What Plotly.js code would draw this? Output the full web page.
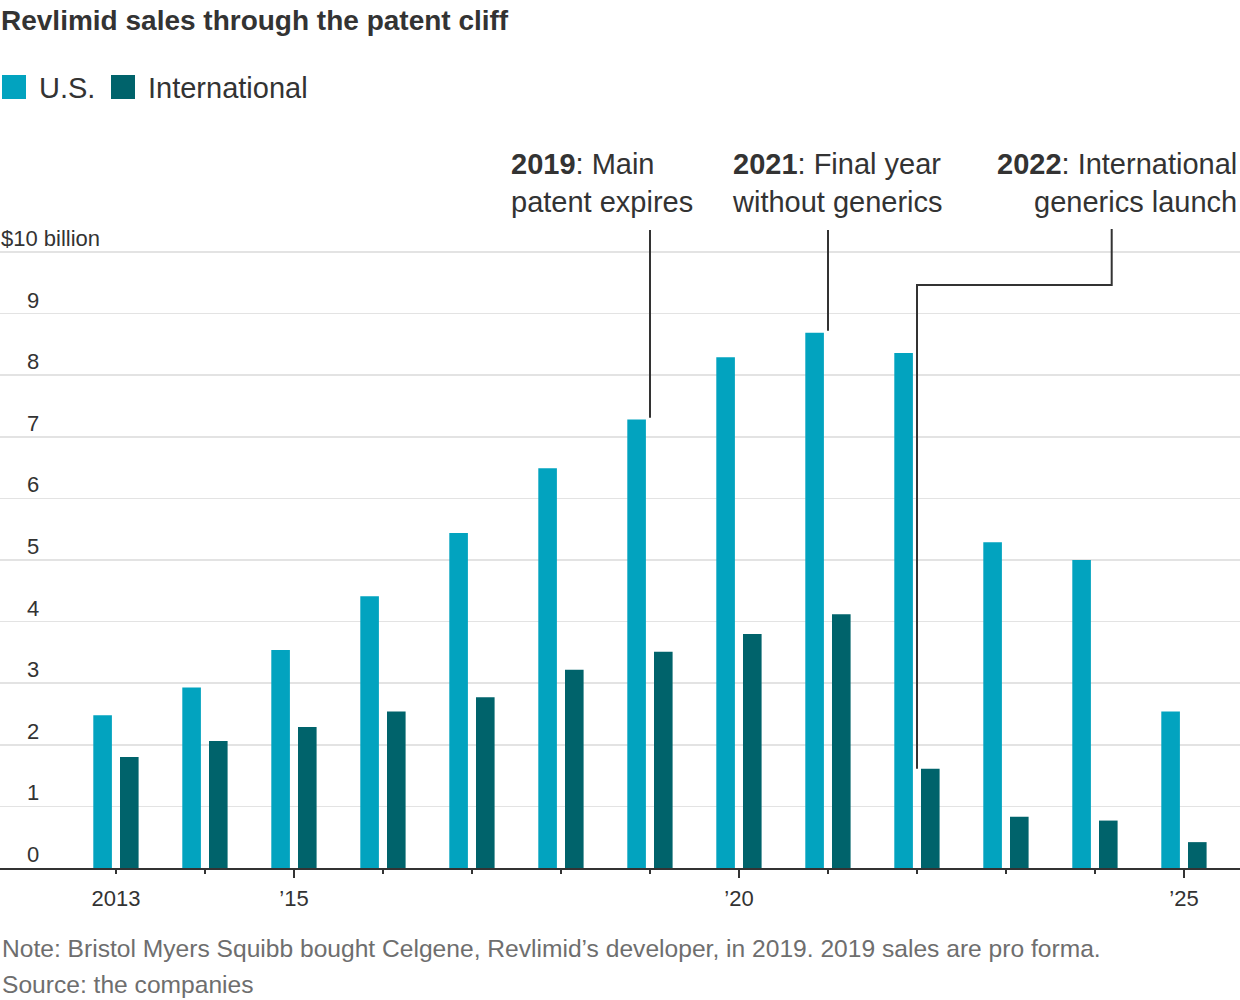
<!DOCTYPE html>
<html>
<head>
<meta charset="utf-8">
<script src="https://cdn.plot.ly/plotly-3.0.1.min.js"></script>
<style>
  html, body { margin: 0; padding: 0; background: #ffffff; }
  #chart { width: 1240px; height: 1000px; }
</style>
</head>
<body>
<div id="chart"></div>
<script>
// ---- Data ($ billions) ----
const years = [2013, 2014, 2015, 2016, 2017, 2018, 2019, 2020, 2021, 2022, 2023, 2024, 2025];
const usSales = [2.48, 2.93, 3.54, 4.41, 5.44, 6.49, 7.28, 8.29, 8.69, 8.36, 5.29, 5.00, 2.54];
const intlSales = [1.80, 2.06, 2.29, 2.54, 2.77, 3.22, 3.51, 3.80, 4.12, 1.61, 0.83, 0.77, 0.42];
const xTickLabels = ['2013', '', '\u201915', '', '', '', '', '\u201920', '', '', '', '', '\u201925'];
const xMajorTicks = [2015, 2020, 2025];
const yTicks = [0, 1, 2, 3, 4, 5, 6, 7, 8, 9, 10];
const yTickLabels = ['0', '1', '2', '3', '4', '5', '6', '7', '8', '9', '$10 billion'];
const seriesNames = ['U.S.', 'International'];
const calloutYears = [2019, 2021, 2022];
const calloutBold = ['2019', '2021', '2022'];
const calloutLine1 = [': Main', ': Final year', ': International'];
const calloutLine2 = ['patent expires', 'without generics', 'generics launch'];
const titleText = 'Revlimid sales through the patent cliff';
const noteText = 'Note: Bristol Myers Squibb bought Celgene, Revlimid\u2019s developer, in 2019. 2019 sales are pro forma.';
const sourceText = 'Source: the companies';

// ---- Style / layout ----
const W = 1240, H = 1000;
const M = { l: 0, r: 0, t: 130, b: 132 };
const plotH = H - M.t - M.b;
const FONT = "'Liberation Sans', Arial, Helvetica, sans-serif";
const TXT = '#333333';
const US_COLOR = '#02a3bf';
const INTL_COLOR = '#00636b';
const PX_PER_YEAR = 89;
const X0_PX = 116; // pixel of first group centre
const xRange = [years[0] - X0_PX / PX_PER_YEAR, years[0] + (W - X0_PX) / PX_PER_YEAR];
const PX_PER_UNIT = 61.6;
const yRange = [0, plotH / PX_PER_UNIT];
const pyToPaper = py => (H - M.b - py) / plotH;
const pyToY = py => (H - M.b - py) / PX_PER_UNIT;
const pxToX = px => xRange[0] + px / PX_PER_YEAR;

const barW = 18.6 / PX_PER_YEAR;

const traces = [
  {
    type: 'bar', name: seriesNames[0], x: years, y: usSales,
    marker: { color: US_COLOR, line: { width: 0 } },
    width: barW, offset: -22.7 / PX_PER_YEAR,
    hoverinfo: 'x+y', showlegend: false
  },
  {
    type: 'bar', name: seriesNames[1], x: years, y: intlSales,
    marker: { color: INTL_COLOR, line: { width: 0 } },
    width: barW, offset: 4 / PX_PER_YEAR,
    hoverinfo: 'x+y', showlegend: false
  },
  {
    // helper so the major-tick axis is drawn
    type: 'scatter', mode: 'markers', x: [years[0]], y: [0], xaxis: 'x2',
    marker: { opacity: 0, size: 1 }, hoverinfo: 'skip', showlegend: false
  }
];

const shapes = [];
const annotations = [];

// y-axis labels (inside, above gridlines)
yTicks.forEach((v, i) => {
  const last = i === yTicks.length - 1;
  annotations.push({
    xref: 'paper', yref: 'y',
    x: last ? 0 : 41 / W, y: v,
    xanchor: last ? 'left' : 'right', yanchor: 'bottom',
    yshift: -1, xshift: last ? -1 : 0,
    text: yTickLabels[i], showarrow: false,
    font: { family: FONT, size: 22, color: TXT }
  });
});

// Callouts
const LINE_TOP_PY = 230;
calloutYears.forEach((yr, k) => {
  const idx = years.indexOf(yr);
  const right = k === 2;
  const xpx = [509, 730, 1239][k];
  annotations.push({
    xref: 'paper', yref: 'paper',
    x: xpx / W, y: pyToPaper(183),
    xanchor: right ? 'right' : 'left', yanchor: 'middle',
    align: right ? 'right' : 'left',
    text: '<b>' + calloutBold[k] + '</b>' + calloutLine1[k] + '<br>' + calloutLine2[k],
    showarrow: false,
    font: { family: FONT, size: 29, color: TXT }
  });
  if (!right) {
    shapes.push({
      type: 'line', xref: 'x', yref: 'y',
      x0: yr, x1: yr, y0: usSales[idx] + 0.03, y1: pyToY(LINE_TOP_PY),
      line: { color: TXT, width: 2 }
    });
  } else {
    const xElbow = pxToX(1111.7);
    const yElbow = pyToY(285);
    shapes.push({
      type: 'path', xref: 'x', yref: 'y',
      path: `M ${yr} ${intlSales[idx]} L ${yr} ${yElbow} L ${xElbow} ${yElbow} L ${xElbow} ${pyToY(LINE_TOP_PY - 1)}`,
      line: { color: TXT, width: 2 }, fillcolor: 'rgba(0,0,0,0)'
    });
  }
});

// Legend (manual, large swatches)
const legendItems = [
  { sx: 2, tx: 37, color: US_COLOR, label: seriesNames[0] },
  { sx: 111, tx: 146, color: INTL_COLOR, label: seriesNames[1] }
];
legendItems.forEach(it => {
  shapes.push({
    type: 'rect', xref: 'paper', yref: 'paper',
    x0: it.sx / W, x1: (it.sx + 24) / W,
    y0: pyToPaper(99), y1: pyToPaper(75),
    fillcolor: it.color, line: { width: 0 }
  });
  annotations.push({
    xref: 'paper', yref: 'paper', x: it.tx / W, y: pyToPaper(88),
    xanchor: 'left', yanchor: 'middle', text: it.label, showarrow: false,
    font: { family: FONT, size: 29, color: TXT }
  });
});

// Note and source
[[noteText, 948], [sourceText, 985]].forEach(([t, py]) => {
  annotations.push({
    xref: 'paper', yref: 'paper', x: 0, y: pyToPaper(py),
    xanchor: 'left', yanchor: 'middle', text: t, showarrow: false,
    font: { family: FONT, size: 24.6, color: '#6e6e6e' }
  });
});

const layout = {
  width: W, height: H,
  margin: M,
  paper_bgcolor: '#ffffff', plot_bgcolor: '#ffffff',
  showlegend: false,
  barmode: 'overlay',
  title: {
    text: '<b>' + titleText + '</b>',
    xref: 'container', yref: 'container',
    x: 0, xanchor: 'left', y: 1 - 20 / H, yanchor: 'middle',
    pad: { l: 1, t: 0, r: 0, b: 0 },
    font: { family: FONT, size: 28, color: TXT }
  },
  xaxis: {
    range: xRange, fixedrange: true,
    tickmode: 'array', tickvals: years, ticktext: xTickLabels,
    ticks: 'outside', ticklen: 4, tickwidth: 2, tickcolor: TXT,
    showline: true, linecolor: TXT, linewidth: 2,
    showgrid: false, zeroline: false,
    tickfont: { family: FONT, size: 22, color: TXT },
    ticklabelstandoff: 6
  },
  xaxis2: {
    overlaying: 'x', matches: 'x', range: xRange, fixedrange: true,
    tickmode: 'array', tickvals: xMajorTicks,
    ticks: 'outside', ticklen: 9, tickwidth: 2, tickcolor: TXT,
    showticklabels: false, showline: false, showgrid: false, zeroline: false
  },
  yaxis: {
    range: yRange, fixedrange: true,
    tickmode: 'array', tickvals: yTicks,
    showticklabels: false, ticks: '',
    showgrid: true, gridcolor: '#e3e3e3', gridwidth: 1.6,
    zeroline: false, showline: false
  },
  shapes: shapes,
  annotations: annotations
};

Plotly.newPlot('chart', traces, layout, { displayModeBar: false, staticPlot: true });
</script>
</body>
</html>
